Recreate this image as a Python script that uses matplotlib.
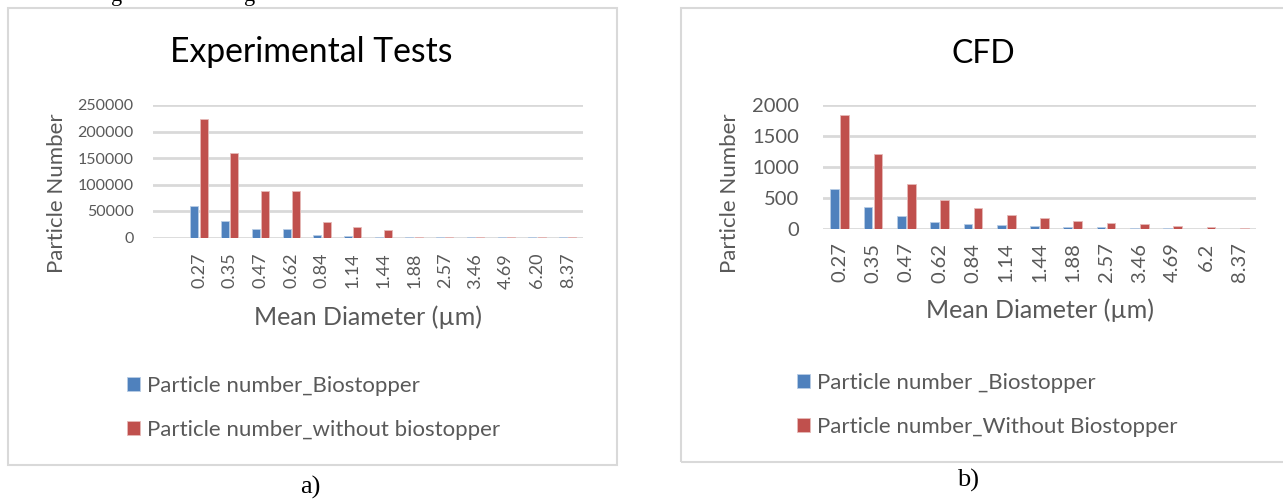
import numpy as np
import matplotlib
matplotlib.use('Agg')
import matplotlib.pyplot as plt
from matplotlib.patches import Rectangle

plt.rcParams['font.family'] = ['Lato', 'DejaVu Sans']

# dados
exp_labels = ['0.27', '0.35', '0.47', '0.62', '0.84', '1.14', '1.44',
              '1.88', '2.57', '3.46', '4.69', '6.20', '8.37']
exp_bio = [60000, 31500, 16400, 16400, 5000, 3200, 1000, 300, 100, 50, 30, 20, 10]
exp_nobio = [224000, 160000, 87400, 86800, 28800, 20500, 13500, 900, 300, 100, 50, 30, 20]

cfd_labels = ['0.27', '0.35', '0.47', '0.62', '0.84', '1.14', '1.44',
              '1.88', '2.57', '3.46', '4.69', '6.2', '8.37']
cfd_bio = [641, 345, 200, 102, 75, 59, 43, 32, 22, 6, 4, 1, 0.5]
cfd_nobio = [1844, 1208, 728, 458, 329, 216, 167, 119, 97, 75, 49, 27, 18]

BLUE = '#4F81BD'
RED = '#C0504D'
GRID = '#D9D9D9'
TXT = '#595959'

W, H = 1283, 499
fig = plt.figure(figsize=(W / 100, H / 100), dpi=100)


def fx(px):
    return px / W


def fy(py):
    return 1 - py / H


def draw_panel(ax, labels, bio, nobio, xlim, ymax, ystep, ytick_fs, xtick_fs, xpad):
    x = np.arange(len(labels))
    b1 = ax.bar(x - 0.15, bio, width=0.26, color=BLUE, edgecolor='#B9CDE5', linewidth=0.6, zorder=3)
    b2 = ax.bar(x + 0.15, nobio, width=0.26, color=RED, edgecolor='#E6B9B8', linewidth=0.6, zorder=3)
    ax.set_xlim(*xlim)
    ax.set_ylim(0, ymax)
    ax.set_yticks(np.arange(0, ymax + 1, ystep))
    ax.set_xticks(x)
    ax.set_xticklabels(labels, rotation=90)
    ax.grid(axis='y', color=GRID, linewidth=2, zorder=0)
    ax.set_axisbelow(True)
    for s in ax.spines.values():
        s.set_visible(False)
    ax.tick_params(axis='both', length=0, labelcolor=TXT)
    ax.tick_params(axis='y', labelsize=ytick_fs)
    ax.tick_params(axis='x', labelsize=xtick_fs, pad=xpad)
    return b1, b2


# Painel a) - Experimental Tests
ax1 = fig.add_axes([fx(153), fy(237.5), fx(583) - fx(153), fy(105) - fy(237.5)])
h1 = draw_panel(ax1, exp_labels, exp_bio, exp_nobio, (-1.5, 12.5), 250000, 50000, 11.5, 13, 11)
ax1.tick_params(axis='y', pad=14)

# Painel b) - CFD
ax2 = fig.add_axes([fx(823), fy(228.7), fx(1256) - fx(823), fy(105) - fy(228.7)])
h2 = draw_panel(ax2, cfd_labels, cfd_bio, cfd_nobio, (-0.5, 12.5), 2000, 500, 14.5, 14.5, 10)
ax2.tick_params(axis='y', pad=17)

# molduras dos gráficos
fig.add_artist(Rectangle((fx(8), fy(465)), fx(617) - fx(8), fy(8) - fy(465),
                         transform=fig.transFigure, fill=False, edgecolor=GRID, linewidth=1.5))
fig.add_artist(Rectangle((fx(681), fy(462)), fx(1295) - fx(681), fy(8) - fy(462),
                         transform=fig.transFigure, fill=False, edgecolor=GRID, linewidth=1.5))

# títulos e rótulos
fig.text(fx(311), fy(62), 'Experimental Tests', fontsize=24.3, ha='center', va='baseline', color='black')
fig.text(fx(983), fy(63), 'CFD', fontsize=23, ha='center', va='baseline', color='black')

fig.text(fx(57), fy(193), 'Particle Number', fontsize=16, rotation=90, ha='center', va='center', color=TXT)
fig.text(fx(730), fy(193), 'Particle Number', fontsize=16, rotation=90, ha='center', va='center', color=TXT)
fig.text(fx(368), fy(317), 'Mean Diameter (µm)', fontsize=18, ha='center', va='center', color=TXT)
fig.text(fx(1040), fy(310), 'Mean Diameter (µm)', fontsize=18, ha='center', va='center', color=TXT)

# legendas
leg1 = fig.legend(h1, ['Particle number_Biostopper', 'Particle number_without biostopper'],
                  loc='center left', bbox_to_anchor=(fx(127), fy(408)), frameon=False,
                  fontsize=16, handlelength=0.6, handleheight=0.6, handletextpad=0.3,
                  labelspacing=1.1, borderpad=0, borderaxespad=0, labelcolor=TXT)
leg2 = fig.legend(h2, ['Particle number _Biostopper', 'Particle number_Without Biostopper'],
                  loc='center left', bbox_to_anchor=(fx(797), fy(405)), frameon=False,
                  fontsize=16, handlelength=0.6, handleheight=0.6, handletextpad=0.3,
                  labelspacing=1.1, borderpad=0, borderaxespad=0, labelcolor=TXT)

# legendas das figuras
fig.text(fx(310), fy(487), 'a)', fontsize=19, family='Liberation Serif', ha='center', va='center')
fig.text(fx(968), fy(480), 'b)', fontsize=19, family='Liberation Serif', ha='center', va='center')

# restos do texto cortado no topo
fig.text(fx(117), fy(1), 'g', fontsize=16, family='Liberation Serif', ha='center', va='baseline')
fig.text(fx(250), fy(1), 'g', fontsize=16, family='Liberation Serif', ha='center', va='baseline')

fig.savefig('out.png', dpi=100)
